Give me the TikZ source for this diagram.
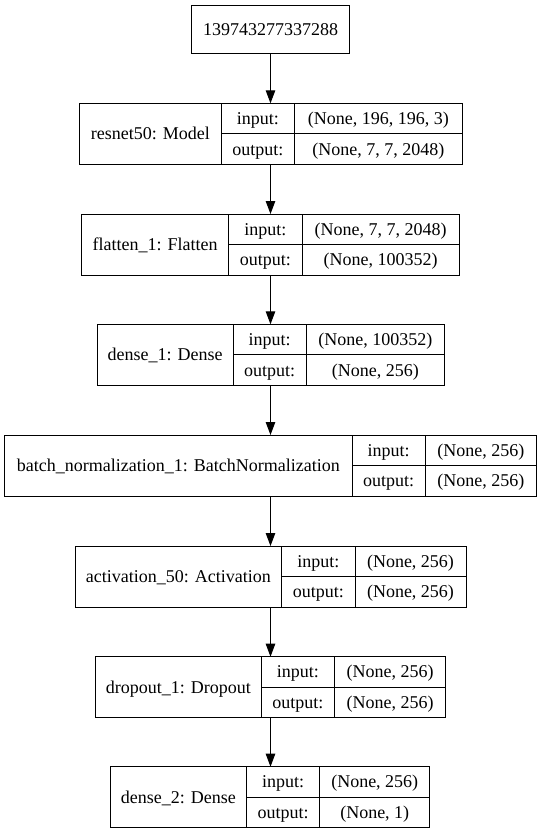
\documentclass[tikz,border=0pt]{standalone}
\usepackage{fontspec}
\setmainfont{Liberation Serif}
\usetikzlibrary{arrows.meta,positioning}

\begin{document}
\begin{tikzpicture}[x=1pt,y=-1pt,font=\fontsize{18}{20}\selectfont]
\tikzstyle{every node}=[draw,line width=1pt,anchor=north west,inner sep=0pt,outer sep=0pt,text height=12pt,text depth=0pt]
\tikzstyle{layer}=[minimum height=61]
\tikzstyle{key}=[minimum height=30.5,minimum width=73.3]
\tikzstyle{val}=[minimum height=30.5]
\tikzstyle{flow}=[draw,-{Triangle[length=13pt,width=9.5pt]},line width=1pt]

\useasboundingbox (0,0) rectangle (541,835);

% input id
\node[minimum width=157.6,minimum height=47.6] (T) at (191.7,5.7) {139743277337288};

% resnet50
\node[layer,minimum width=142] (R) at (79.3,103.3) {resnet50: Model};
\node[key] (R-in) at (R.north east) {input:};
\node[key] (R-out) at (R-in.south west) {output:};
\node[val,minimum width=167.4] (R-inv) at (R-in.north east) {(None, 196, 196, 3)};
\node[val,minimum width=167.4] (R-outv) at (R-out.north east) {(None, 7, 7, 2048)};

% flatten
\node[layer,minimum width=147] (F) at (81.7,214) {flatten\_1: Flatten};
\node[key] (F-in) at (F.north east) {input:};
\node[key] (F-out) at (F-in.south west) {output:};
\node[val,minimum width=157.3] (F-inv) at (F-in.north east) {(None, 7, 7, 2048)};
\node[val,minimum width=157.3] (F-outv) at (F-out.north east) {(None, 100352)};

% dense 1
\node[layer,minimum width=135.7] (D1) at (97.3,324.3) {dense\_1: Dense};
\node[key] (D1-in) at (D1.north east) {input:};
\node[key] (D1-out) at (D1-in.south west) {output:};
\node[val,minimum width=138] (D1-inv) at (D1-in.north east) {(None, 100352)};
\node[val,minimum width=138] (D1-outv) at (D1-out.north east) {(None, 256)};

% batch norm
\node[layer,minimum width=347.3] (BN) at (4.7,435) {batch\_normalization\_1: BatchNormalization};
\node[key] (BN-in) at (BN.north east) {input:};
\node[key] (BN-out) at (BN-in.south west) {output:};
\node[val,minimum width=111] (BN-inv) at (BN-in.north east) {(None, 256)};
\node[val,minimum width=111] (BN-outv) at (BN-out.north east) {(None, 256)};

% activation
\node[layer,minimum width=206.7] (A) at (75,546) {activation\_50: Activation};
\node[key] (A-in) at (A.north east) {input:};
\node[key] (A-out) at (A-in.south west) {output:};
\node[val,minimum width=111] (A-inv) at (A-in.north east) {(None, 256)};
\node[val,minimum width=111] (A-outv) at (A-out.north east) {(None, 256)};

% dropout
\node[layer,minimum width=166] (Dr) at (95.3,656.7) {dropout\_1: Dropout};
\node[key] (Dr-in) at (Dr.north east) {input:};
\node[key] (Dr-out) at (Dr-in.south west) {output:};
\node[val,minimum width=111] (Dr-inv) at (Dr-in.north east) {(None, 256)};
\node[val,minimum width=111] (Dr-outv) at (Dr-out.north east) {(None, 256)};

% dense 2
\node[layer,minimum width=136] (D2) at (110.4,766.7) {dense\_2: Dense};
\node[key] (D2-in) at (D2.north east) {input:};
\node[key] (D2-out) at (D2-in.south west) {output:};
\node[val,minimum width=110.1] (D2-inv) at (D2-in.north east) {(None, 256)};
\node[val,minimum width=110.1] (D2-outv) at (D2-out.north east) {(None, 1)};

\draw[flow] (T) -- (T |- R.north);
\draw[flow] (T |- R.south) -- (T |- F.north);
\draw[flow] (T |- F.south) -- (T |- D1.north);
\draw[flow] (T |- D1.south) -- (T |- BN.north);
\draw[flow] (T |- BN.south) -- (T |- A.north);
\draw[flow] (T |- A.south) -- (T |- Dr.north);
\draw[flow] (T |- Dr.south) -- (T |- D2.north);
\end{tikzpicture}
\end{document}
